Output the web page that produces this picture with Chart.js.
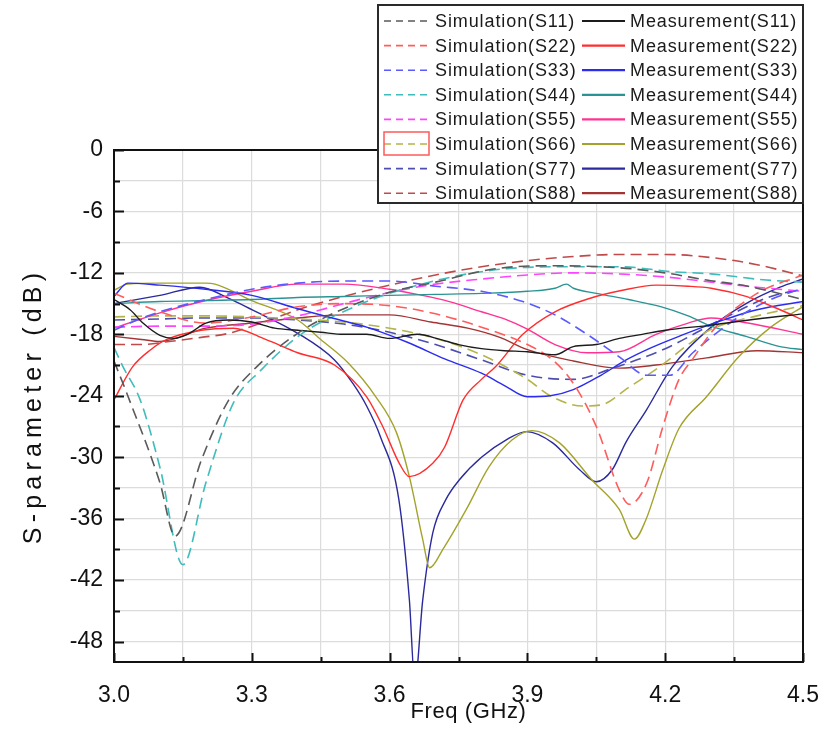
<!DOCTYPE html>
<html>
<head>
<meta charset="utf-8">
<script src="https://cdn.jsdelivr.net/npm/chart.js@4.4.1/dist/chart.umd.min.js"></script>
<style>
  html, body { margin: 0; padding: 0; background: #fff; }
  #wrap { position: relative; width: 824px; height: 750px; }
</style>
</head>
<body>
<div id="wrap"><canvas id="sChart" width="824" height="750"></canvas></div>
<script>
// axis grid / tick values
const freqGrid = [3.0, 3.15, 3.3, 3.45, 3.6, 3.75, 3.9, 4.05, 4.2, 4.35, 4.5];
const freqLabels = [3.0, 3.3, 3.6, 3.9, 4.2, 4.5];
const dbGrid = [0, -3, -6, -9, -12, -15, -18, -21, -24, -27, -30, -33, -36, -39, -42, -45, -48];
const dbLabels = [0, -6, -12, -18, -24, -30, -36, -42, -48];

const portNames = ['S11', 'S22', 'S33', 'S44', 'S55', 'S66', 'S77', 'S88'];

// simulated curves [freq GHz, dB]
const simS11 = [[3.0,-20.6],[3.03,-24],[3.1,-32.5],[3.133,-37.7],[3.19,-30.3],[3.25,-24.4],[3.31,-21.2],[3.4,-17.9],[3.48,-15.9],[3.6,-13.9],[3.7,-12.9],[3.83,-11.6],[3.95,-11.3],[4.1,-11.5],[4.2,-12],[4.29,-12.7],[4.38,-13.3],[4.5,-14.6]];
const simS22 = [[3.0,-14],[3.1,-15.8],[3.2,-16.9],[3.3,-16.3],[3.4,-15.3],[3.5,-15],[3.6,-15.2],[3.7,-16],[3.8,-17.3],[3.9,-19],[3.955,-20.5],[4.0,-22.8],[4.05,-27],[4.1,-33.2],[4.122,-34.6],[4.16,-32.5],[4.195,-27],[4.23,-22.4],[4.26,-20.4],[4.31,-17.3],[4.4,-14],[4.5,-12.2]];
const simS33 = [[3.0,-17.6],[3.05,-16.6],[3.1,-15.8],[3.2,-14.6],[3.3,-13.6],[3.4,-13],[3.5,-12.8],[3.6,-12.8],[3.7,-13.3],[3.8,-13.8],[3.89,-14.8],[3.96,-16.1],[4.03,-18],[4.1,-20.2],[4.16,-22],[4.21,-22],[4.26,-19.8],[4.36,-16.3],[4.43,-14.6],[4.5,-13.5]];
const simS44 = [[3.0,-19.3],[3.02,-21.2],[3.057,-24.4],[3.1,-31],[3.15,-40.5],[3.2,-32.5],[3.26,-24.7],[3.32,-21.5],[3.41,-17.9],[3.48,-16.2],[3.6,-14],[3.83,-11.7],[4.0,-11.4],[4.1,-11.4],[4.22,-11.9],[4.3,-12.1],[4.42,-12.7],[4.5,-12.9]];
const simS55 = [[3.0,-17.3],[3.1,-17.2],[3.2,-17.2],[3.3,-17],[3.4,-16.2],[3.5,-15],[3.6,-13.9],[3.7,-13.1],[3.8,-12.6],[3.9,-12.2],[4.0,-12],[4.1,-12.1],[4.2,-12.4],[4.3,-12.9],[4.4,-13.4],[4.5,-13.8]];
const simS66 = [[3.0,-16.3],[3.1,-16.2],[3.2,-16.2],[3.3,-16.3],[3.4,-16.5],[3.5,-16.8],[3.6,-17.4],[3.7,-18.4],[3.8,-20],[3.9,-22.4],[3.95,-24],[4.02,-25],[4.06,-24.9],[4.12,-23.2],[4.19,-21.1],[4.25,-19],[4.3,-17.5],[4.4,-16.2],[4.5,-15.2]];
const simS77 = [[3.0,-16.6],[3.1,-16.5],[3.2,-16.4],[3.3,-16.4],[3.4,-16.6],[3.5,-17],[3.6,-17.8],[3.7,-19],[3.8,-20.5],[3.9,-22],[4.0,-22.4],[4.08,-21.4],[4.2,-19.4],[4.32,-16.6],[4.43,-14.3],[4.5,-13.6]];
const simS88 = [[3.0,-19],[3.06,-19],[3.12,-18.7],[3.19,-18.3],[3.25,-17.9],[3.32,-16.9],[3.4,-15.6],[3.5,-14.3],[3.6,-13.2],[3.7,-12.2],[3.8,-11.4],[3.9,-10.8],[4.0,-10.4],[4.1,-10.2],[4.2,-10.2],[4.3,-10.5],[4.4,-11.2],[4.5,-12.3]];

// measured curves [freq GHz, dB]
const measS11 = [[3.0,-14.6],[3.035,-15.6],[3.063,-16.9],[3.1,-18.1],[3.13,-18.4],[3.16,-18],[3.2,-16.9],[3.25,-16.6],[3.3,-16.8],[3.35,-17.4],[3.4,-17.6],[3.45,-17.8],[3.5,-18],[3.55,-18],[3.6,-18.4],[3.66,-18],[3.71,-18.5],[3.75,-19],[3.8,-19.4],[3.85,-19.6],[3.9,-19.7],[3.96,-20],[4.0,-19.2],[4.05,-19],[4.1,-18.4],[4.15,-18],[4.2,-17.6],[4.3,-17.1],[4.4,-16.5],[4.5,-16]];
const measS22 = [[3.0,-24.4],[3.04,-21.2],[3.08,-19.5],[3.115,-18.5],[3.19,-17.6],[3.26,-17.4],[3.33,-18.5],[3.4,-19.8],[3.48,-21],[3.55,-24.1],[3.585,-27],[3.62,-30.5],[3.643,-31.9],[3.694,-30.6],[3.72,-29],[3.76,-24.4],[3.8,-22.4],[3.83,-21.2],[3.89,-18],[3.96,-15.8],[4.035,-14.5],[4.107,-13.7],[4.18,-13.2],[4.25,-13.3],[4.3,-13.5],[4.376,-14.3],[4.45,-15.6],[4.5,-16.6]];
const measS33 = [[3.0,-14.3],[3.03,-13],[3.1,-13.2],[3.2,-13.6],[3.3,-14.2],[3.4,-15.5],[3.5,-16.7],[3.55,-17.3],[3.64,-18.8],[3.72,-20.4],[3.8,-21.8],[3.85,-23],[3.9,-24.1],[3.95,-24],[4.0,-23.4],[4.06,-22],[4.115,-20.5],[4.17,-19.3],[4.23,-18.2],[4.3,-17],[4.4,-15.6],[4.5,-14.8]];
const measS44 = [[3.0,-15],[3.1,-14.8],[3.2,-14.7],[3.3,-14.6],[3.4,-14.4],[3.5,-14.3],[3.6,-14.2],[3.7,-14.1],[3.8,-14],[3.9,-13.8],[3.96,-13.5],[3.985,-13.1],[4.0,-13.5],[4.05,-14],[4.12,-14.6],[4.19,-15.3],[4.25,-16.2],[4.3,-17.2],[4.376,-18.2],[4.45,-19.2],[4.5,-19.5]];
const measS55 = [[3.0,-17.4],[3.1,-15.9],[3.2,-14.7],[3.3,-13.8],[3.4,-13.1],[3.5,-13.1],[3.6,-13.6],[3.66,-14.1],[3.73,-14.8],[3.8,-15.8],[3.85,-16.5],[3.9,-17.5],[3.96,-19],[4.03,-19.8],[4.1,-19.7],[4.18,-18],[4.25,-16.9],[4.3,-16.4],[4.38,-16.9],[4.5,-18]];
const measS66 = [[3.0,-13.7],[3.03,-13.1],[3.1,-13],[3.2,-13],[3.22,-13.1],[3.3,-14.7],[3.4,-16.6],[3.45,-18.5],[3.51,-20.8],[3.57,-24.1],[3.615,-27.6],[3.643,-31.9],[3.672,-38],[3.687,-40.8],[3.716,-39],[3.767,-35.1],[3.817,-30.9],[3.867,-28.3],[3.91,-27.4],[3.97,-28.6],[4.04,-32.2],[4.1,-35.1],[4.133,-38],[4.158,-36.1],[4.195,-31.2],[4.23,-27.2],[4.29,-24.1],[4.36,-20.2],[4.43,-17.3],[4.5,-15.3]];
const measS77 = [[3.0,-15],[3.1,-14.2],[3.187,-13.4],[3.25,-14.5],[3.3,-15.6],[3.4,-17.9],[3.48,-20.5],[3.52,-22.8],[3.55,-25],[3.58,-28],[3.62,-34.1],[3.643,-43.9],[3.655,-52],[3.672,-44],[3.694,-37.4],[3.723,-34.1],[3.752,-32.2],[3.8,-30],[3.854,-28.3],[3.898,-27.5],[3.955,-28.6],[4.013,-31.2],[4.05,-32.4],[4.085,-31.2],[4.115,-28.5],[4.159,-25.4],[4.215,-21.2],[4.3,-17.3],[4.376,-15],[4.45,-13.4],[4.5,-12.6]];
const measS88 = [[3.0,-18.2],[3.06,-18.5],[3.1,-18.7],[3.2,-17.4],[3.3,-16.9],[3.4,-16.4],[3.5,-16.1],[3.6,-16.1],[3.69,-16.8],[3.77,-17.4],[3.84,-18.3],[3.9,-19.5],[4.0,-20.6],[4.1,-21.3],[4.18,-21],[4.29,-20.3],[4.4,-19.6],[4.5,-19.8]];

const simSeries = [simS11, simS22, simS33, simS44, simS55, simS66, simS77, simS88];
const measSeries = [measS11, measS22, measS33, measS44, measS55, measS66, measS77, measS88];

const simColors = ['#5a5a5a', '#ff5c5c', '#5a5aff', '#3fbcbc', '#ff44ff', '#b4b44a', '#4e4eb0', '#c04a4a'];
const measColors = ['#1c1c1c', '#ff2e2e', '#2c2cf0', '#2a9494', '#ff3393', '#a3a32c', '#2a2a9c', '#a33434'];

const simDash = [11, 6];
const FONT = 'Arial, "Liberation Sans", sans-serif';

function toPoints(pairs) {
  return pairs.map(p => ({ x: p[0], y: p[1] }));
}

const datasets = [];
portNames.forEach((name, i) => {
  datasets.push({
    label: 'Simulation(' + name + ')',
    data: toPoints(simSeries[i]),
    borderColor: simColors[i],
    borderWidth: 1.6,
    borderDash: simDash,
    pointRadius: 0,
    fill: false,
    cubicInterpolationMode: 'monotone'
  });
  datasets.push({
    label: 'Measurement(' + name + ')',
    data: toPoints(measSeries[i]),
    borderColor: measColors[i],
    borderWidth: 1.4,
    pointRadius: 0,
    fill: false,
    cubicInterpolationMode: 'monotone'
  });
});

function spaced(c, px) {
  if ('letterSpacing' in c) c.letterSpacing = px + 'px';
}

// box, inward ticks, axis titles and the two-column legend
const framePlugin = {
  id: 'frame',
  afterDatasetsDraw(chart) {
    const { ctx, chartArea: a, scales: { x, y } } = chart;
    ctx.save();
    ctx.strokeStyle = '#111';
    ctx.lineWidth = 2;
    ctx.strokeRect(a.left, a.top, a.right - a.left, a.bottom - a.top);
    dbGrid.forEach(v => {
      const py = Math.round(y.getPixelForValue(v)) + 0.5;
      const len = dbLabels.includes(v) ? 10 : 6;
      ctx.beginPath();
      ctx.moveTo(a.left, py);
      ctx.lineTo(a.left + len, py);
      ctx.stroke();
    });
    freqGrid.forEach(v => {
      const px = Math.round(x.getPixelForValue(v)) + 0.5;
      const major = freqLabels.some(l => Math.abs(l - v) < 1e-6);
      const len = major ? 9 : 5;
      ctx.beginPath();
      ctx.moveTo(px, a.bottom);
      ctx.lineTo(px, a.bottom - len);
      ctx.stroke();
    });

    ctx.fillStyle = '#111';
    ctx.textAlign = 'center';
    ctx.textBaseline = 'middle';
    ctx.font = '22px ' + FONT;
    spaced(ctx, 0.6);
    ctx.fillText('Freq (GHz)', (a.left + a.right) / 2 + 10, 712);
    ctx.save();
    ctx.translate(34, 406);
    ctx.rotate(-Math.PI / 2);
    ctx.font = '25px ' + FONT;
    spaced(ctx, 5.2);
    ctx.fillText('S-parameter (dB)', 0, 0);
    ctx.restore();
    ctx.restore();
  },
  afterDraw(chart) {
    const { ctx } = chart;
    const box = { left: 378, top: 5, right: 803, bottom: 203 };
    ctx.save();
    ctx.fillStyle = '#fff';
    ctx.fillRect(box.left, box.top, box.right - box.left, box.bottom - box.top);
    ctx.strokeStyle = '#2a2a2a';
    ctx.lineWidth = 2;
    ctx.strokeRect(box.left, box.top, box.right - box.left, box.bottom - box.top);
    ctx.font = '18px ' + FONT;
    ctx.textBaseline = 'middle';
    ctx.textAlign = 'left';
    spaced(ctx, 0.9);
    portNames.forEach((name, i) => {
      const ry = 21 + i * 24.6;
      ctx.lineWidth = 1.6;
      ctx.strokeStyle = simColors[i];
      ctx.setLineDash([7, 5]);
      ctx.beginPath();
      ctx.moveTo(384, ry);
      ctx.lineTo(429, ry);
      ctx.stroke();
      ctx.setLineDash([]);
      ctx.lineWidth = 2.2;
      ctx.strokeStyle = measColors[i];
      ctx.beginPath();
      ctx.moveTo(582, ry);
      ctx.lineTo(625, ry);
      ctx.stroke();
      ctx.fillStyle = '#1a1a1a';
      ctx.fillText('Simulation(' + name + ')', 435, ry + 1);
      ctx.fillText('Measurement(' + name + ')', 630, ry + 1);
    });
    // highlight box drawn round the S66 sample in the original
    ctx.strokeStyle = '#ff5a5a';
    ctx.lineWidth = 1.5;
    ctx.strokeRect(384, 132, 45, 23);
    ctx.restore();
  }
};

const ctx = document.getElementById('sChart').getContext('2d');
const sChart = new Chart(ctx, {
  type: 'line',
  data: { datasets: datasets },
  options: {
    responsive: false,
    animation: false,
    layout: { padding: { left: 0, right: 21, top: 150, bottom: 0 } },
    plugins: {
      legend: { display: false },
      tooltip: { enabled: false }
    },
    scales: {
      x: {
        type: 'linear',
        min: 3.0,
        max: 4.5,
        afterFit(s) { s.height = 88; s.paddingLeft = 0; s.paddingRight = 0; },
        afterBuildTicks(s) { s.ticks = freqGrid.map(v => ({ value: v })); },
        grid: { color: '#dcdcdc', lineWidth: 1.2, drawTicks: false },
        border: { display: false },
        ticks: {
          padding: 20,
          maxRotation: 0,
          autoSkip: false,
          color: '#111',
          font: { family: FONT, size: 23 },
          callback(v) {
            return freqLabels.some(l => Math.abs(l - v) < 1e-6) ? v.toFixed(1) : '';
          }
        }
      },
      y: {
        min: -50,
        max: 0,
        afterFit(s) { s.width = 114; s.paddingTop = 0; s.paddingBottom = 0; },
        afterBuildTicks(s) { s.ticks = dbGrid.map(v => ({ value: v })); },
        grid: { color: '#dcdcdc', lineWidth: 1.2, drawTicks: false },
        border: { display: false },
        ticks: {
          padding: 11,
          autoSkip: false,
          color: '#111',
          font: { family: FONT, size: 23 },
          callback(v) { return dbLabels.includes(v) ? String(v) : ''; }
        }
      }
    }
  },
  plugins: [framePlugin]
});
</script>
</body>
</html>
